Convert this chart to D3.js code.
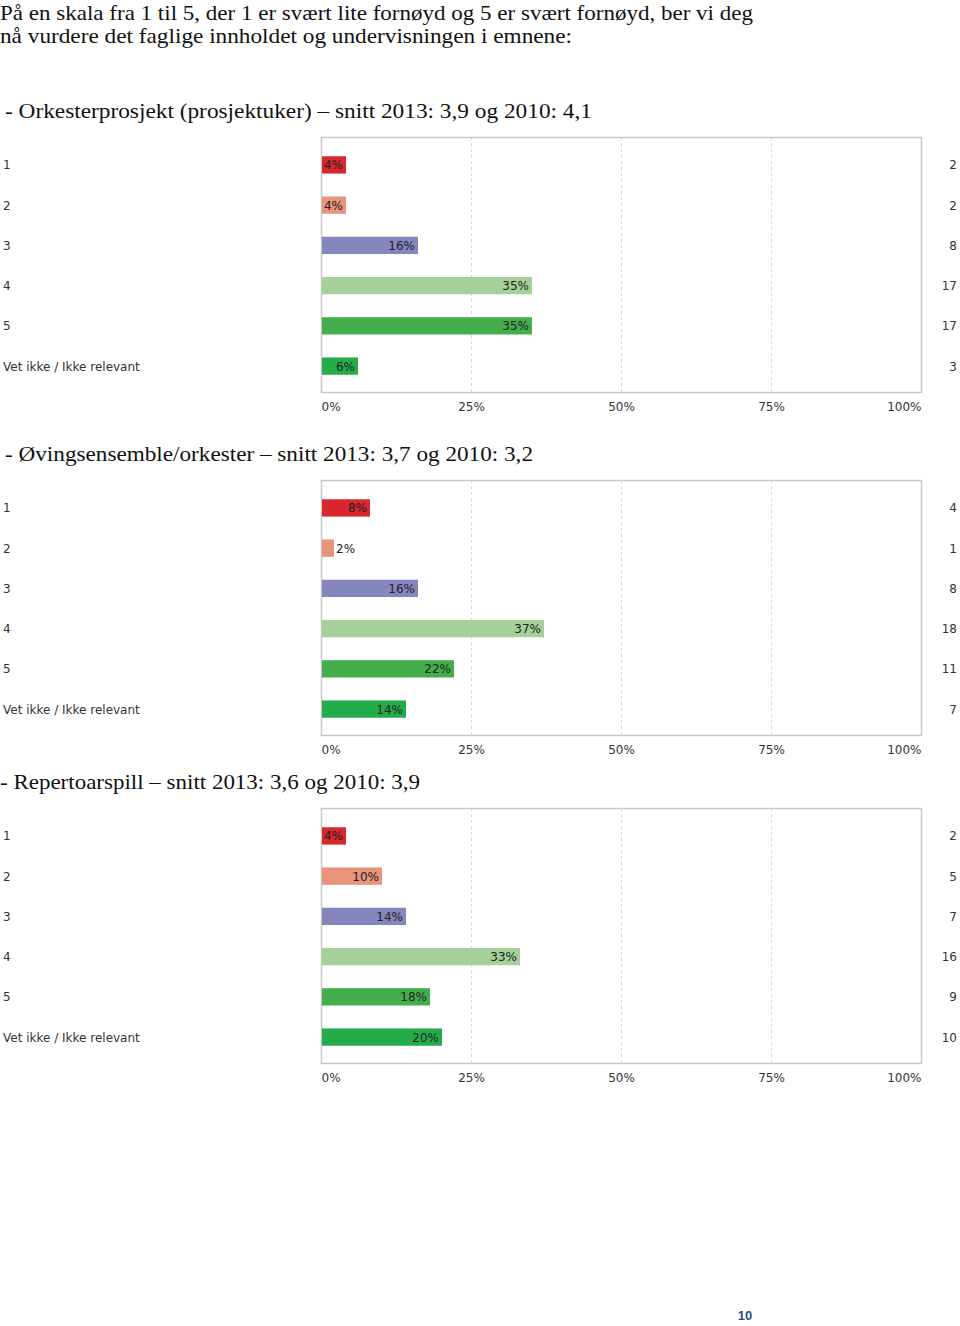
<!DOCTYPE html>
<html><head><meta charset="utf-8">
<script src="https://cdn.jsdelivr.net/npm/d3@7"></script>
<style>body{margin:0;background:#fff;} svg{display:block;}</style>
</head><body>
<script>
const headerLines = ["På en skala fra 1 til 5, der 1 er svært lite fornøyd og 5 er svært fornøyd, ber vi deg",
                     "nå vurdere det faglige innholdet og undervisningen i emnene:"];
const categories = ["1","2","3","4","5","Vet ikke / Ikke relevant"];
const ticks = [0,25,50,75,100];
const titles = ["- Orkesterprosjekt (prosjektuker) – snitt 2013: 3,9 og 2010: 4,1",
                "- Øvingsensemble/orkester – snitt 2013: 3,7 og 2010: 3,2",
                "- Repertoarspill – snitt 2013: 3,6 og 2010: 3,9"];
const pct1 = [4,4,16,35,35,6];
const cnt1 = [2,2,8,17,17,3];
const pct2 = [8,2,16,37,22,14];
const cnt2 = [4,1,8,18,11,7];
const pct3 = [4,10,14,33,18,20];
const cnt3 = [2,5,7,16,9,10];
const colors = ["#d8272d","#e8937a","#8586be","#a6d09a","#45ae4c","#24ac4a"];
const pageNumber = "10";

const W=960,H=1326;
const svg=d3.select("body").append("svg").attr("width",W).attr("height",H);
const serif="'Liberation Serif','DejaVu Serif',serif";
const sans="'DejaVu Sans',Verdana,sans-serif";
const fs=12;

// header
const hdr=[{t:headerLines[0],y:19.5,w:753},{t:headerLines[1],y:43,w:572}];
hdr.forEach(h=>svg.append("text").attr("x",0).attr("y",h.y).attr("font-family",serif).attr("font-size",21)
  .attr("fill","#111").attr("textLength",h.w).attr("lengthAdjust","spacingAndGlyphs").text(h.t));

const x=d3.scaleLinear().domain([0,100]).range([321,921]);
const charts=[
 {title:titles[0],tx:5,tw:587,ty:118,top:137,pct:pct1,cnt:cnt1},
 {title:titles[1],tx:5,tw:528,ty:461,top:480,pct:pct2,cnt:cnt2},
 {title:titles[2],tx:0,tw:420,ty:789,top:808,pct:pct3,cnt:cnt3}
];
charts.forEach(c=>{
  svg.append("text").attr("x",c.tx).attr("y",c.ty).attr("font-family",serif).attr("font-size",22)
    .attr("fill","#111").attr("textLength",c.tw).attr("lengthAdjust","spacingAndGlyphs").text(c.title);
  const bottom=c.top+255;
  const y=d3.scaleBand().domain(categories).range([c.top+8,bottom-6]).paddingInner(0.57).paddingOuter(0.28);
  const g=svg.append("g");
  // grid
  g.selectAll("line.grid").data([25,50,75]).join("line").attr("x1",d=>x(d)+0.5).attr("x2",d=>x(d)+0.5)
    .attr("y1",c.top).attr("y2",bottom).attr("stroke","#d8d8d8").attr("stroke-dasharray","3,3");
  g.append("rect").attr("x",x(0)+0.5).attr("y",c.top+0.5).attr("width",x(100)-x(0)).attr("height",bottom-c.top)
    .attr("fill","none").attr("stroke","#c8c8c8").attr("stroke-width",1.5);
  // bars
  g.selectAll("rect.bar").data(c.pct).join("rect").attr("x",x(0)+1).attr("y",(d,i)=>y(categories[i]))
    .attr("width",d=>x(d)-x(0)).attr("height",y.bandwidth()).attr("fill",(d,i)=>colors[i]);
  // value labels
  g.selectAll("text.val").data(c.pct).join("text")
    .attr("font-family",sans).attr("font-size",fs).attr("fill","#222")
    .attr("y",(d,i)=>y(categories[i])+y.bandwidth()/2+4.5)
    .each(function(d){
      const el=d3.select(this).text(d+"%");
      const tw=this.getComputedTextLength();
      const bw=x(d)-x(0);
      if(tw+2<bw){el.attr("text-anchor","end").attr("x",x(d)-2);}
      else {el.attr("text-anchor","start").attr("x",x(d)+3);}
    });
  // category labels
  g.selectAll("text.cat").data(categories).join("text").attr("x",3).attr("y",d=>y(d)+y.bandwidth()/2+4.5)
    .attr("font-family",sans).attr("font-size",fs).attr("fill","#333").text(d=>d);
  // counts
  g.selectAll("text.cnt").data(c.cnt).join("text").attr("x",957).attr("text-anchor","end")
    .attr("y",(d,i)=>y(categories[i])+y.bandwidth()/2+4.5)
    .attr("font-family",sans).attr("font-size",fs).attr("fill","#333").text(d=>d);
  // axis
  const ax=d3.axisBottom(x).tickValues(ticks).tickFormat(d=>d+"%").tickSize(0).tickPadding(0);
  const axg=svg.append("g").attr("transform",`translate(0,${bottom+10})`).call(ax);
  axg.select(".domain").remove();
  axg.selectAll("text").attr("font-family",sans).attr("font-size",fs).attr("fill","#333")
    .attr("dy","0.71em")
    .attr("text-anchor",(d,i)=>i===0?"start":(i===ticks.length-1?"end":"middle"));
});

svg.append("text").attr("x",745).attr("y",1320).attr("text-anchor","middle").attr("font-family","'Liberation Sans',Arial,sans-serif")
  .attr("font-weight","bold").attr("font-size",13).attr("fill","#1f4e8c").text(pageNumber);
</script>
</body></html>
